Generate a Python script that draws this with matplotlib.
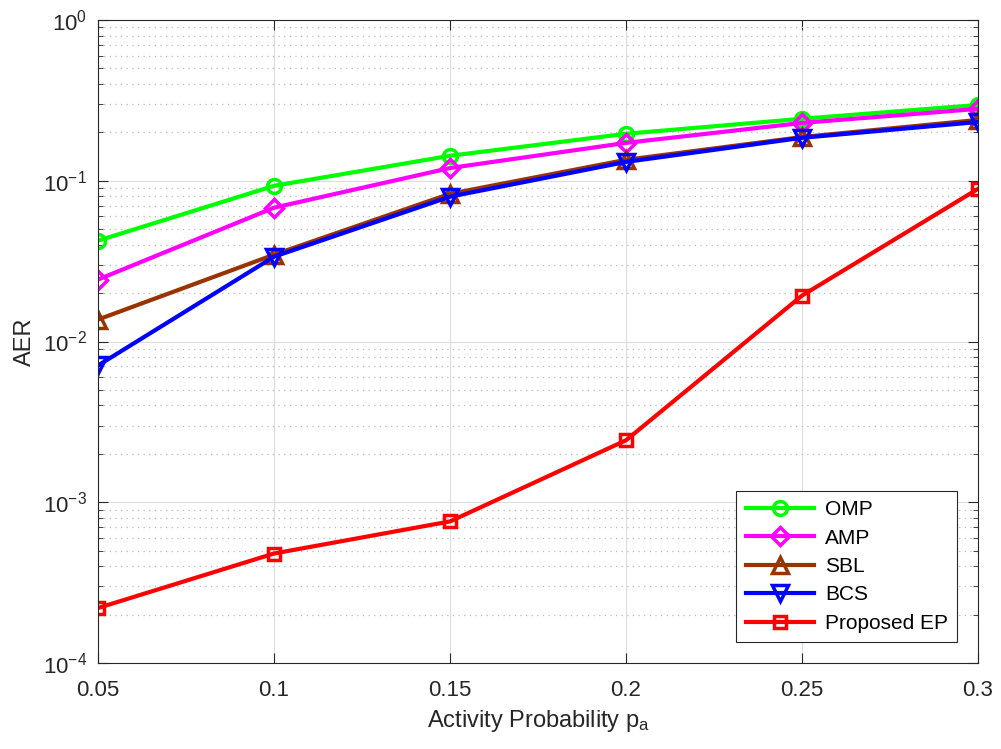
import numpy as np
import matplotlib.pyplot as plt
from matplotlib.ticker import LogLocator, NullFormatter, FixedFormatter, FixedLocator

plt.rcParams['font.family'] = ['Liberation Sans', 'DejaVu Sans']
plt.rcParams['mathtext.default'] = 'regular'

pa = [0.05, 0.1, 0.15, 0.2, 0.25, 0.3]
omp = [0.0424, 0.093, 0.143, 0.196, 0.243, 0.296]
amp = [0.0243, 0.068, 0.12, 0.172, 0.229, 0.28]
sbl = [0.0137, 0.0347, 0.083, 0.135, 0.187, 0.239]
bcs = [0.0071, 0.0337, 0.0796, 0.131, 0.185, 0.232]
ep = [2.2e-4, 4.8e-4, 7.6e-4, 2.43e-3, 0.0193, 0.089]

names = ['OMP', 'AMP', 'SBL', 'BCS', 'Proposed EP']
colors = ['#00FF00', '#FF00FF', '#993300', '#0000FF', '#FF0000']
markers = ['o', 'D', '^', 'v', 's']
msizes = [10, 9, 12, 12, 8]

fig = plt.figure(figsize=(10.01, 7.49), dpi=100)
ax = fig.add_axes([0.098, 0.1148, 0.879, 0.8585])

for y, n, c, m, ms in zip([omp, amp, sbl, bcs, ep], names, colors, markers, msizes):
    ax.semilogy(pa, y, color=c, marker=m, markersize=ms, markerfacecolor='none',
                markeredgewidth=2.5, linewidth=3, label=n)

ax.set_xlim(0.05, 0.3)
ax.set_ylim(1e-4, 1)
ax.set_xticks(pa)
ax.set_xticklabels(['0.05', '0.1', '0.15', '0.2', '0.25', '0.3'])
yt = [1e-4, 1e-3, 1e-2, 1e-1, 1]
ax.yaxis.set_major_locator(FixedLocator(yt))
ax.yaxis.set_major_formatter(FixedFormatter(['$10^{-4}$', '$10^{-3}$', '$10^{-2}$', '$10^{-1}$', '$10^{0}$']))
ax.yaxis.set_minor_locator(LogLocator(base=10, subs=np.arange(2, 10), numticks=20))
ax.yaxis.set_minor_formatter(NullFormatter())

ax.grid(True, which='major', color='#DDDDDD', linestyle='-', linewidth=0.8)
ax.grid(True, which='minor', axis='y', color='#BBBBBB', linestyle=(0, (1, 3.5)), linewidth=0.9)
ax.tick_params(which='both', direction='in', top=True, right=True, labelsize=16,
               color='#262626', labelcolor='#262626')
ax.tick_params(which='major', length=7)
ax.tick_params(which='minor', length=3.5)
ax.tick_params(axis='x', pad=12)
ax.tick_params(axis='y', pad=8)
for s in ax.spines.values():
    s.set_color('#262626')

ax.set_xlabel('Activity Probability p$_a$', fontsize=17, color='#262626', labelpad=5)
ax.set_ylabel('AER', fontsize=17, color='#262626', labelpad=5)

leg = ax.legend(loc='lower right', fontsize=15, fancybox=False, framealpha=1,
                edgecolor='#262626', handlelength=3.3, borderaxespad=1.0,
                labelspacing=0.45, handletextpad=0.5, borderpad=0.45)
leg.get_frame().set_linewidth(0.8)

fig.savefig('out.png', dpi=100)
